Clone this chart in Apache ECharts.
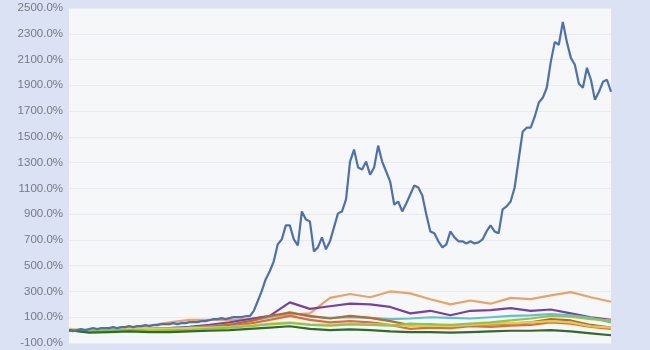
<!DOCTYPE html>
<html><head><meta charset="utf-8">
<script src="https://cdn.jsdelivr.net/npm/echarts@6/dist/echarts.min.js"></script>
<style>html,body{margin:0;padding:0;background:#dae2f3}#c{width:650px;height:350px}</style>
</head><body><div id="c"></div>
<script>
// Fine-sampled index for the main (blue) series
const blueValues = [0,-8,0,8,0,8,15,8,15,15,15,23,15,23,23,31,23,31,31,39,31,39,39,46,46,46,54,46,54,54,62,62,62,70,70,77,85,85,93,85,93,101,101,101,108,108,147,224,302,395,457,534,666,704,813,813,704,658,921,859,844,611,642,720,627,689,797,906,921,1014,1308,1401,1262,1246,1308,1207,1262,1432,1308,1231,1153,975,998,921,983,1053,1122,1107,1045,898,766,751,689,642,666,766,720,689,689,673,689,673,681,704,766,813,766,751,937,960,998,1107,1324,1540,1571,1571,1656,1765,1803,1881,2082,2237,2214,2392,2237,2113,2059,1912,1881,2036,1943,1788,1850,1927,1943,1850];
// Coarse sample index for the smaller series
const coarseIdx = [0,5,10,15,20,25,30,35,40,45,50,55,60,65,70,75,80,85,90,95,100,105,110,115,120,125,130,135];
const orangeValues = [0,-5,5,10,35,60,80,80,80,85,105,120,130,250,280,255,300,285,240,200,230,205,250,240,270,295,255,220];
const purpleValues = [0,-5,0,5,10,15,25,40,60,85,110,215,165,185,205,200,180,130,150,115,150,155,170,150,160,130,100,80];
const tealValues = [0,-5,0,5,10,15,20,30,45,70,100,140,105,95,100,95,85,90,100,95,90,100,110,115,125,115,95,60];
const brownValues = [0,-10,0,5,5,10,15,25,40,70,110,135,110,90,110,95,70,40,45,30,40,45,50,60,85,75,40,20];
const redValues = [0,-5,0,0,5,5,10,20,30,50,80,110,80,60,70,60,40,10,20,15,30,25,35,40,60,50,25,10];
const yellowValues = [10,0,10,15,10,10,15,20,25,35,50,60,45,40,50,45,40,30,35,30,40,50,55,60,70,60,30,20];
const lightGreenValues = [-5,-10,0,0,-5,0,0,10,20,30,45,55,40,35,45,40,35,50,45,40,50,60,75,90,110,105,85,75];
const darkGreenValues = [0,-20,-15,-10,-15,-15,-10,-5,0,10,20,30,10,0,5,0,-10,-15,-15,-20,-15,-10,-5,-5,0,-10,-25,-40];
const yTickMin = -100, yTickMax = 2500, yTickStep = 200;

const coarse = vals => coarseIdx.map((x, k) => [x, vals[k]]);
const minor = [
  ['#e9a363', orangeValues], ['#7b3fa3', purpleValues], ['#5fc2cb', tealValues],
  ['#b7692e', brownValues], ['#e36a3c', redValues], ['#e3cf45', yellowValues],
  ['#8fc450', lightGreenValues], ['#2f6b2c', darkGreenValues]
];
const series = minor.map(([c, v]) => ({
  type: 'line', data: coarse(v), showSymbol: false, smooth: false,
  lineStyle: { color: c, width: 2.2 }, itemStyle: { color: c }
}));
series.push({
  type: 'line', data: blueValues.map((v, i) => [i, v]), showSymbol: false,
  lineStyle: { color: '#4d70b3', width: 2.2 }, itemStyle: { color: '#4d70b3' }
});

const chart = echarts.init(document.getElementById('c'), null, { renderer: 'canvas' });
chart.setOption({
  animation: false,
  backgroundColor: '#dae2f3',
  grid: { left: 69, right: 39, top: 8, bottom: 7, show: true, backgroundColor: '#f6f7f9', borderWidth: 0 },
  xAxis: { type: 'value', min: 0, max: blueValues.length - 1, show: false },
  yAxis: {
    type: 'value', min: yTickMin, max: yTickMax, interval: yTickStep,
    axisLine: { show: false }, axisTick: { show: false },
    axisLabel: { color: '#767a84', fontSize: 11.5, fontFamily: 'Liberation Sans, Arial', margin: 6,
      formatter: v => v.toFixed(1) + '%' },
    splitLine: { lineStyle: { color: '#e9ebef', width: 1 } }
  },
  series
});
</script></body></html>
